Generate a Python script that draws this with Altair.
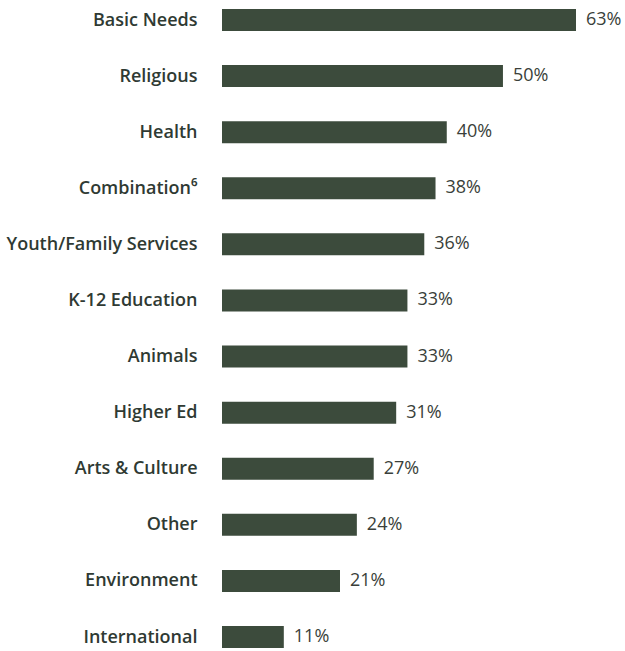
import altair as alt
import pandas as pd

categories = ["Basic Needs", "Religious", "Health", "Combination⁶", "Youth/Family Services",
              "K-12 Education", "Animals", "Higher Ed", "Arts & Culture", "Other",
              "Environment", "International"]
values = [63, 50, 40, 38, 36, 33, 33, 31, 27, 24, 21, 11]
labels = [f"{v}%" for v in values]

df = pd.DataFrame({"cat": categories, "val": values, "lab": labels})

ysc = alt.Scale(type="point", domain=categories, range=[20, 637], padding=0)
xsc = alt.Scale(domain=[0, 63], range=[0, 354], nice=False, zero=True)

base = alt.Chart(df).encode(
    y=alt.Y("cat:N", scale=ysc, sort=categories,
            axis=alt.Axis(title=None, domain=False, ticks=False, grid=False, labelPadding=25,
                          labelFontSize=18, labelFont="Open Sans", labelFontWeight=600,
                          labelColor="#2f3a33", labelLimit=300)),
    x=alt.X("val:Q", scale=xsc, axis=None),
)

bars = base.mark_bar(size=22, color="#3c4b3c")
text = base.mark_text(align="left", baseline="middle", dx=10, fontSize=18,
                      font="Open Sans", color="#3a3f3a").encode(text="lab:N")

chart = (bars + text).properties(
    width=400, height=651,
    autosize=alt.AutoSizeParams(type="none"),
    padding={"left": 222, "top": 0, "right": 0, "bottom": 0},
).configure(background="white").configure_view(stroke=None)

chart.save("out.html", embed_options={"renderer": "svg", "actions": False})
